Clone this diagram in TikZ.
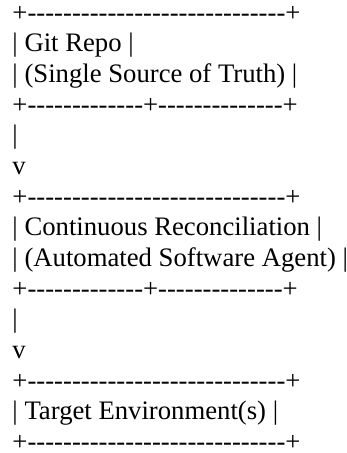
\documentclass[tikz,border=0pt]{standalone}
\usepackage{fontspec}
\setmainfont{Liberation Serif}[Ligatures=TeXOff]
\begin{document}
\begin{tikzpicture}[x=1pt,y=1pt,
  asc/.style={anchor=base west, inner sep=0pt, outer sep=0pt,
    font=\fontsize{26.7}{30.7}\selectfont}]
\useasboundingbox (0,0) rectangle (347,-453);
\def\lx{12.5}
\def\pitch{30.68}
\node[asc] (l1)  at (\lx,{-21-0*\pitch})  {+-----------------------------+};
\node[asc] (l2)  at (\lx,{-21-1*\pitch})  {| Git Repo |};
\node[asc] (l3)  at (\lx,{-21-2*\pitch})  {| (Single Source of Truth) |};
\node[asc] (l4)  at (\lx,{-21-3*\pitch})  {+-------------+--------------+};
\node[asc] (l5)  at (\lx,{-21-4*\pitch})  {|};
\node[asc] (l6)  at (\lx,{-21-5*\pitch})  {v};
\node[asc] (l7)  at (\lx,{-21-6*\pitch})  {+-----------------------------+};
\node[asc] (l8)  at (\lx,{-21-7*\pitch})  {| Continuous Reconciliation |};
\node[asc] (l9)  at (\lx,{-21-8*\pitch})  {| (Automated Software Agent) |};
\node[asc] (l10) at (\lx,{-21-9*\pitch})  {+-------------+--------------+};
\node[asc] (l11) at (\lx,{-21-10*\pitch}) {|};
\node[asc] (l12) at (\lx,{-21-11*\pitch}) {v};
\node[asc] (l13) at (\lx,{-21-12*\pitch}) {+-----------------------------+};
\node[asc] (l14) at (\lx,{-21-13*\pitch}) {| Target Environment(s) |};
\node[asc] (l15) at (\lx,{-21-14*\pitch}) {+-----------------------------+};
\end{tikzpicture}
\end{document}
